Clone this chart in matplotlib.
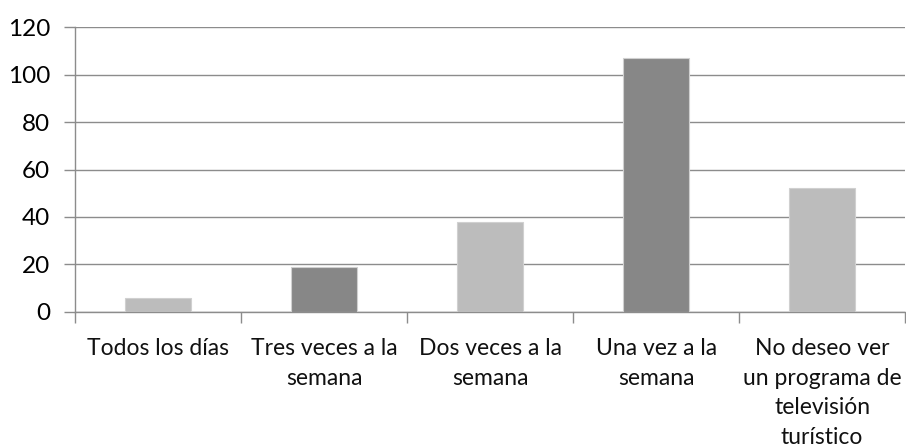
import numpy as np
import matplotlib
matplotlib.use("Agg")
import matplotlib.pyplot as plt

categories = ["Todos los días", "Tres veces a la\nsemana", "Dos veces a la\nsemana",
              "Una vez a la\nsemana", "No deseo ver\nun programa de\ntelevisión\nturístico"]
values = [6, 19, 38, 107, 52]
colors = ["#BCBCBC", "#878787", "#BCBCBC", "#878787", "#BCBCBC"]
yticks = [0, 20, 40, 60, 80, 100, 120]

plt.rcParams['font.family'] = ['Lato', 'DejaVu Sans']

fig = plt.figure(figsize=(9.06, 4.48), dpi=100)
ax = fig.add_axes([0.0828, 0.3036, 0.9162, 0.6361])

x = np.arange(len(values))
ax.bar(x, values, width=0.4, color=colors, edgecolor="#D0D0D0", linewidth=0.8, zorder=3)

ax.set_xlim(-0.5, len(values) - 0.5)
ax.set_ylim(0, 120)
ax.set_yticks(yticks)
ax.tick_params(axis='y', labelsize=17.5, length=8, width=1, color="#8C8C8C", pad=10)
ax.yaxis.grid(True, color="#8C8C8C", linewidth=1, zorder=0)

ax.set_xticks(np.arange(len(values) + 1) - 0.5)
ax.set_xticklabels([])
ax.tick_params(axis='x', length=8, width=1, color="#8C8C8C")
for i, c in enumerate(categories):
    ax.text(i, -11, c, ha='center', va='top', fontsize=16.5, linespacing=1.5,
            color="#111111", transform=ax.transData)

for s in ["top", "right"]:
    ax.spines[s].set_visible(False)
for s in ["left", "bottom"]:
    ax.spines[s].set_color("#8C8C8C")
    ax.spines[s].set_linewidth(1)

fig.savefig("out.png", dpi=100)
